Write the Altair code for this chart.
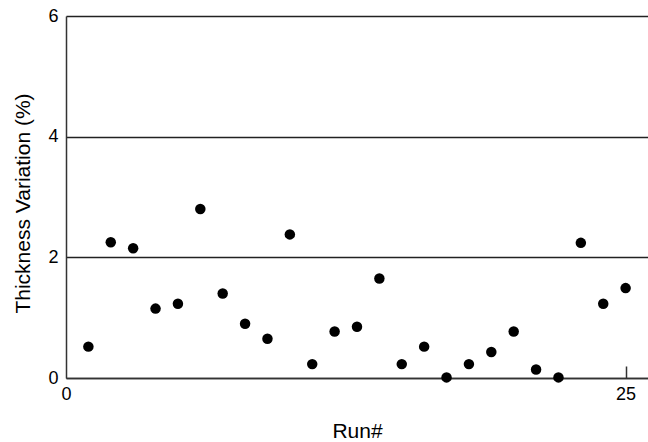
import altair as alt
import pandas as pd

runs = list(range(1, 26))
thickness = [0.52, 2.25, 2.15, 1.15, 1.23, 2.80, 1.40, 0.90, 0.65, 2.38,
             0.23, 0.77, 0.85, 1.65, 0.23, 0.52, 0.01, 0.23, 0.43, 0.77,
             0.14, 0.01, 2.24, 1.23, 1.49]
x_ticks = [0, 25]
y_ticks = [0, 2, 4, 6]

df = pd.DataFrame({"run": runs, "thickness": thickness})

FONT = "Liberation Sans"
W, H = 582, 362

x_scale = alt.Scale(domain=[0, 26], nice=False, zero=False)
y_scale = alt.Scale(domain=[0, 6], nice=False)

points = alt.Chart(df).mark_circle(size=110, color="black", opacity=1).encode(
    x=alt.X("run:Q", scale=x_scale,
            axis=alt.Axis(values=x_ticks, title="Run#", ticks=False, grid=False,
                          domainColor="#333333", domainWidth=1.5,
                          labelFont=FONT, labelFontSize=18, labelColor="black",
                          labelPadding=7, labelFlush=False,
                          titleFont=FONT, titleFontSize=21, titleFontWeight="normal",
                          titleColor="black", titleX=W / 2, titleY=59,
                          titleBaseline="alphabetic")),
    y=alt.Y("thickness:Q", scale=y_scale,
            axis=alt.Axis(values=y_ticks, title="Thickness Variation (%)", ticks=False,
                          grid=True, gridColor="#222222", gridWidth=1.3, gridOpacity=1,
                          domainColor="#333333", domainWidth=1.5,
                          labelFont=FONT, labelFontSize=18, labelColor="black",
                          labelPadding=8, labelFlush=False,
                          titleFont=FONT, titleFontSize=21, titleFontWeight="normal",
                          titleColor="black", titleX=-43, titleY=187,
                          titleAlign="center", titleBaseline="middle")),
)

tick_layer = alt.Chart(df).mark_circle(opacity=0).encode(
    x=alt.X("run:Q", scale=x_scale,
            axis=alt.Axis(orient="top", offset=-H, values=[25], labels=False,
                          domain=False, grid=False, title=None,
                          ticks=True, tickSize=12, tickColor="#333333", tickWidth=1.5)),
)

chart = alt.layer(points, tick_layer).resolve_axis(x="independent").properties(
    width=W, height=H,
    background="white",
    autosize=alt.AutoSizeParams(type="none"),
    padding={"left": 66, "top": 16, "right": 0, "bottom": 64},
).configure_view(stroke=None)

chart.save("out.html", embed_options={"renderer": "svg", "actions": False})
